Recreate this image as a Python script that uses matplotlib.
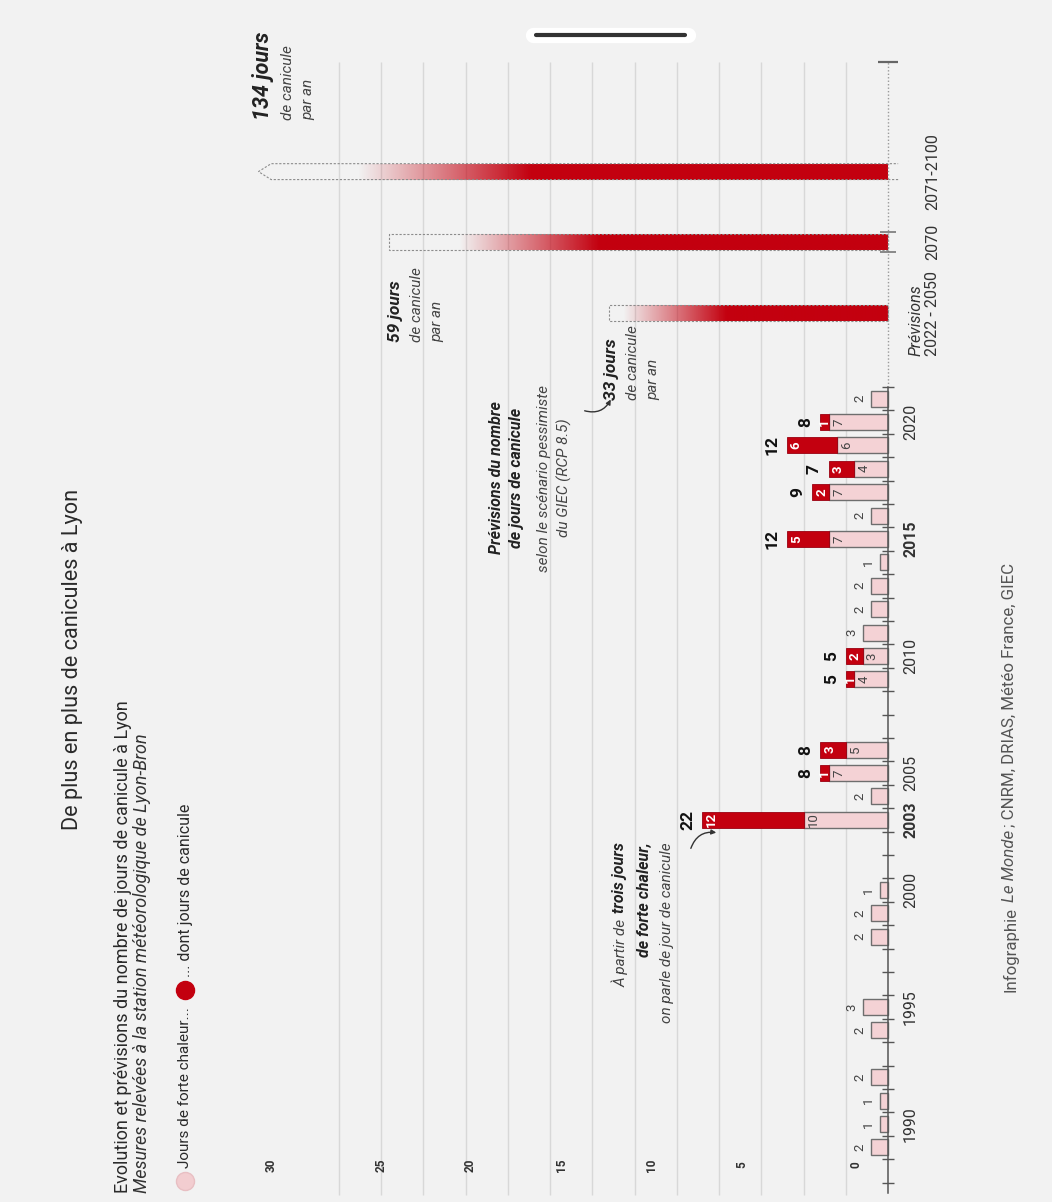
import numpy as np
import matplotlib
matplotlib.use("Agg")
import matplotlib.pyplot as plt
from matplotlib.patches import Rectangle, Polygon, FancyArrowPatch
from matplotlib.colors import to_rgb

# ---------------- data ----------------
years = [1989, 1990, 1991, 1992, 1993, 1994, 1995, 1996, 1997, 1998, 1999, 2000,
         2001, 2002, 2003, 2004, 2005, 2006, 2007, 2008, 2009, 2010, 2011, 2012,
         2013, 2014, 2015, 2016, 2017, 2018, 2019, 2020, 2021]
forte_chaleur = [2, 1, 1, 2, 0, 2, 3, 0, 0, 2, 2, 1,
                 0, 0, 10, 2, 7, 5, 0, 0, 4, 3, 3, 2,
                 2, 1, 7, 2, 7, 4, 6, 7, 2]
canicule = [0, 0, 0, 0, 0, 0, 0, 0, 0, 0, 0, 0,
            0, 0, 12, 0, 1, 3, 0, 0, 1, 2, 0, 0,
            0, 0, 5, 0, 2, 3, 6, 1, 0]
year_labels = [1990, 1995, 2000, 2003, 2005, 2010, 2015, 2020]
bold_years = [2003, 2015]
proj_labels = ["2022 - 2050", "2070", "2071-2100"]
proj_days = [33, 59, 134]
value_tick_labels = ["30", "25", "20", "15", "10", "5", "0"]
grid_days = [5, 10, 15, 20, 25, 30, 35, 40, 45, 50, 55, 60, 65]

# ---------------- layout ----------------
W, H = 1052, 1202
PX0, SX = 888.0, 8.45        # baseline pixel, pixels per day
PY2000, SY = 890.0, 23.4     # pixel of year 2000, pixels per year
proj_pos = [2024.65, 2027.7, 2030.7]
DISPLAY_CAP = 74.5           # longest bar is truncated on display
BAR_H = 0.68
value_tick_px = [271, 381, 470, 562, 651, 742, 856]

BG = "#f2f2f2"
PINK = "#f4d2d5"
RED = "#c3000f"
DARK = "#222222"
GREY = "#555555"
FN = ["Liberation Sans Narrow", "Roboto", "DejaVu Sans"]

def X(px):
    return (PX0 - px) / SX

def Y(py):
    return 2000 + (PY2000 - py) / SY

fig = plt.figure(figsize=(W / 100, H / 100), dpi=100, facecolor=BG)
ax = fig.add_axes([0, 0, 1, 1])
ax.set_facecolor(BG)
ax.set_axis_off()

def T(px, py, s, **kw):
    kw.setdefault("family", FN)
    kw.setdefault("rotation", 90)
    return ax.text(X(px), Y(py), s, **kw)

# grid lines
ax.vlines(grid_days, Y(1195), Y(62), color="#d8d8d8", lw=1.0, zorder=1)

# axis line (historic solid, projection dotted)
ax.plot([0, 0], [Y(1193), 2021.5], color="#555555", lw=1.1, zorder=4)
ax.plot([0, 0], [2021.5, Y(62)], color="#9a9a9a", lw=1.0, ls=(0, (1, 1.5)), zorder=4)
ticks = np.arange(1987.5, 2022, 1.0)
ax.hlines(ticks, -0.75, 0.75, color="#555555", lw=1.0, zorder=4)
ax.hlines([Y(62)], -1.2, 1.2, color="#666666", lw=1.6, zorder=4)
ax.hlines([proj_pos[1] - 0.42, proj_pos[1] + 0.42], -0.9, 0.9, color="#777777", lw=1.2, zorder=4)

# historic bars
yrs = np.array(years, dtype=float)
fc = np.array(forte_chaleur, dtype=float)
cn = np.array(canicule, dtype=float)
tot = fc + cn
mask = tot > 0
ax.barh(yrs[mask], fc[mask], left=0, height=BAR_H, color=PINK,
        edgecolor="#6e6e6e", lw=1.0, zorder=3)
mred = cn > 0
ax.barh(yrs[mred], cn[mred], left=fc[mred], height=BAR_H, color=RED,
        edgecolor="#9a0010", lw=0.6, zorder=3)

for y, a, b in zip(yrs, fc, cn):
    t = a + b
    if t == 0:
        continue
    if b > 0:
        ax.text(a - 1.15, y, f"{int(a)}", rotation=90, ha="center", va="center",
                fontsize=9.5, color="#444444", family=FN, zorder=6)
        ax.text(t - min(1.15, 0.5 if b < 2 else 1.15), y, f"{int(b)}", rotation=90,
                ha="center", va="center", fontsize=9.5, color="white",
                fontweight="bold", family=FN, zorder=6)
        ax.annotate(f"{int(t)}", (t, y), xytext=(-5, 0), textcoords="offset points",
                    rotation=90, ha="right", va="center", fontsize=12.5,
                    fontweight="bold", color="#111111", family=FN, zorder=6)
    else:
        ax.annotate(f"{int(t)}", (t, y), xytext=(-3, 0), textcoords="offset points",
                    rotation=90, ha="right", va="center", fontsize=9.5,
                    color="#444444", family=FN, zorder=6)

# projection bars with fading gradient
N = 300
tt = np.linspace(0, 1, N)
for pos, val in zip(proj_pos, proj_days):
    L = min(val, DISPLAY_CAP)
    grad_len = L if val <= DISPLAY_CAP else L - 1.5
    f1 = 0.95 if val < 40 else 0.86
    alpha = np.clip((f1 - tt) / (f1 - 0.58), 0, 1)
    img = np.zeros((1, N, 4))
    img[..., :3] = to_rgb(RED)
    img[..., 3] = alpha
    ax.imshow(img, extent=(0, grad_len, pos - BAR_H / 2, pos + BAR_H / 2),
              aspect="auto", interpolation="bilinear", zorder=3)
    if val <= DISPLAY_CAP:
        ax.add_patch(Rectangle((0, pos - BAR_H / 2), L, BAR_H, fill=False,
                               ec="#8c8c8c", lw=0.8, ls=(0, (2, 1.5)), zorder=3))
    else:
        pts = [(-1.2, pos - BAR_H / 2), (L - 1.5, pos - BAR_H / 2), (L, pos),
               (L - 1.5, pos + BAR_H / 2), (-1.2, pos + BAR_H / 2)]
        ax.add_patch(Polygon(pts, closed=False, fill=False, ec="#8c8c8c", lw=0.8,
                             ls=(0, (2, 1.5)), zorder=3))

# year labels
for yl in year_labels:
    T(903, 0, str(yl), ha="left", va="center", fontsize=11.5,
      fontweight="bold" if yl in bold_years else "normal", color="#333333").set_y(yl)
p0 = T(925, 0, proj_labels[0], ha="left", va="center", fontsize=11.5, color="#333333")
p0.set_y(proj_pos[0])
ax.annotate("Prévisions", xy=(0, 0), xycoords=p0, xytext=(-1, 0), textcoords="offset points",
            rotation=90, ha="right", va="bottom", fontsize=11.5, style="italic",
            color="#333333", family=FN)
for lab, pos in zip(proj_labels[1:], proj_pos[1:]):
    T(925, 0, lab, ha="left", va="center", fontsize=11.5, color="#333333").set_y(pos)

# value axis labels
for s, px in zip(value_tick_labels, value_tick_px):
    T(px, 1165, s, ha="center", va="center", fontsize=8.5, fontweight="bold", color="#333333")

# projection annotations
def proj_note(px, py, big, fs_big):
    t1 = T(px, py, big, ha="left", va="bottom",
           fontsize=fs_big, fontweight="bold", style="italic", color=DARK)
    ax.annotate("de canicule\npar an", xy=(1, 0), xycoords=t1, xytext=(5, 0),
                textcoords="offset points", rotation=90, ha="left", va="bottom",
                multialignment="left", fontsize=11, style="italic", color="#444444",
                family=FN, linespacing=1.55)

proj_note(604, 400, "33 jours", 12.5)
proj_note(388, 342, "59 jours", 12.5)
proj_note(252, 120, "134 jours", 15.5)

# GIEC note
T(489, 478, "Prévisions du nombre\nde jours de canicule", ha="left", va="center",
  multialignment="center", fontsize=11.5, fontweight="bold", style="italic",
  color=DARK, linespacing=1.45)
T(537, 478, "selon le scénario pessimiste\ndu GIEC (RCP 8.5)", ha="left", va="center",
  multialignment="center", fontsize=11, style="italic", color="#444444",
  linespacing=1.45)
ax.add_patch(FancyArrowPatch((X(582), Y(410)), (X(612), Y(397)),
                             connectionstyle="arc3,rad=0.45", arrowstyle="-|>",
                             mutation_scale=7, color="#333333", lw=1.0, zorder=6))

# 2003 note
a1 = T(612, 842, "trois jours", ha="left", va="top", fontsize=11.5, fontweight="bold",
       style="italic", color=DARK)
ax.annotate("À partir de", xy=(0, 0), xycoords=a1, xytext=(0, -4), textcoords="offset points",
            rotation=90, ha="left", va="top", fontsize=11, style="italic",
            color="#444444", family=FN)
T(636, 842, "de forte chaleur,", ha="left", va="top", fontsize=11.5, fontweight="bold",
  style="italic", color=DARK)
T(660, 842, "on parle de jour de canicule", ha="left", va="top", fontsize=11,
  style="italic", color="#444444")
ax.add_patch(FancyArrowPatch((X(690), Y(851)), (X(719), Y(833)),
                             connectionstyle="arc3,rad=-0.45", arrowstyle="-|>",
                             mutation_scale=7, color="#333333", lw=1.0, zorder=6))

# title, subtitle, legend, source
T(62, 830, "De plus en plus de canicules à Lyon", ha="left", va="bottom",
  fontsize=15.6, color="#2a2a2a")
T(114, 1193, "Evolution et prévisions du nombre de jours de canicule à Lyon",
  ha="left", va="bottom", fontsize=13, color="#2a2a2a")
T(133, 1193, "Mesures relevées à la station météorologique de Lyon-Bron",
  ha="left", va="bottom", fontsize=13, style="italic", color="#333333")
ax.plot([X(185)], [Y(1181)], "o", ms=13, color="#f2cdd0", mec="#e8bfc3", zorder=5)
ax.plot([X(185)], [Y(990)], "o", ms=13, color=RED, mec=RED, zorder=5)
T(178, 1168, "Jours de forte chaleur...", ha="left", va="bottom", fontsize=11,
  color="#2a2a2a")
T(178, 977, "... dont jours de canicule", ha="left", va="bottom", fontsize=11.5,
  color="#2a2a2a")

s1 = T(1002, 992, "Infographie", ha="left", va="bottom", fontsize=12.2, color="#555555")
s2 = ax.annotate("Le Monde", xy=(0, 1), xycoords=s1, xytext=(0, 3.5), textcoords="offset points",
                 rotation=90, ha="left", va="bottom", fontsize=12.2, style="italic",
                 color="#555555", family=FN)
ax.annotate("; CNRM, DRIAS, Météo France, GIEC", xy=(0, 1), xycoords=s2, xytext=(0, 2.5),
            textcoords="offset points", rotation=90, ha="left", va="bottom",
            fontsize=12.2, color="#555555", family=FN)

# scroll handle decoration
fig.add_artist(plt.Line2D([533 / W, 688 / W], [1 - 35 / H, 1 - 35 / H], color="white",
                          lw=11, solid_capstyle="round"))
fig.add_artist(plt.Line2D([536 / W, 685 / W], [1 - 35 / H, 1 - 35 / H], color="#333333",
                          lw=3, solid_capstyle="round"))

ax.set_xlim(X(0), X(W))
ax.set_ylim(Y(H), Y(0))
fig.savefig("out.png", dpi=100, facecolor=BG)
